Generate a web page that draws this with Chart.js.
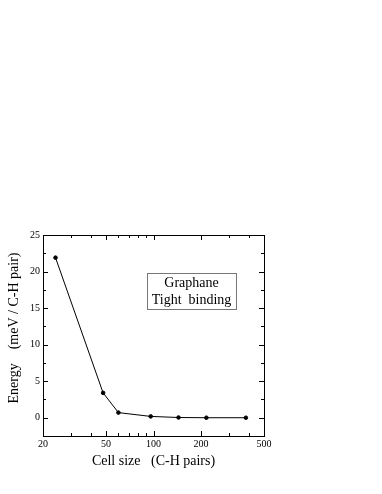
<!DOCTYPE html>
<html>
<head>
<meta charset="utf-8">
<script src="https://cdn.jsdelivr.net/npm/chart.js@4"></script>
<style>
  html, body { margin: 0; padding: 0; background: #fff; }
  #grafico { display: block; }
</style>
</head>
<body>
<canvas id="grafico" width="382" height="494"></canvas>
<script>
// datos
const tamanos = [24, 48, 60, 96, 144, 216, 384]
const energias = [21.9, 3.4, 0.7, 0.18, 0.03, 0.0, 0.0]
const ticks_x = [20, 50, 100, 200, 500]
const menores_x = [30, 40, 60, 70, 80, 90, 300, 400]
const ticks_y = [0, 5, 10, 15, 20, 25]
const menores_y = [-2.5, 2.5, 7.5, 12.5, 17.5, 22.5]
const leyenda = ['Graphane', 'Tight  binding']
const titulo_y = 'Energy    (meV / C-H pair)'

const fuente = '"Liberation Serif", "DejaVu Serif", serif'

// marco con ticks hacia adentro, titulo del eje y y caja de texto
const marco = {
  id: 'marco',
  afterDraw(chart) {
    const ctx = chart.ctx
    const a = chart.chartArea
    const sx = chart.scales.x
    const sy = chart.scales.y
    ctx.save()
    ctx.strokeStyle = '#000'
    ctx.lineWidth = 1
    ctx.strokeRect(a.left + 0.5, a.top + 0.5, a.right - a.left, a.bottom - a.top)

    ctx.beginPath()
    function tx(v, largo) {
      const px = Math.round(sx.getPixelForValue(v)) + 0.5
      ctx.moveTo(px, a.bottom); ctx.lineTo(px, a.bottom - largo)
      ctx.moveTo(px, a.top); ctx.lineTo(px, a.top + largo)
    }
    function ty(v, largo) {
      const py = Math.round(sy.getPixelForValue(v)) + 0.5
      ctx.moveTo(a.left, py); ctx.lineTo(a.left + largo, py)
      ctx.moveTo(a.right, py); ctx.lineTo(a.right - largo, py)
    }
    ticks_x.forEach(v => tx(v, 5))
    menores_x.forEach(v => tx(v, 3))
    ticks_y.forEach(v => ty(v, 5))
    menores_y.forEach(v => ty(v, 3))
    ctx.stroke()

    ctx.fillStyle = '#000'
    ctx.textAlign = 'center'
    ctx.textBaseline = 'middle'

    // titulo del eje y
    ctx.save()
    ctx.translate(14, a.top + 93)
    ctx.rotate(-Math.PI / 2)
    ctx.font = '14px ' + fuente
    ctx.fillText(titulo_y, 0, 0)
    ctx.restore()

    // caja de texto
    const bx = a.left + 104, by = a.top + 38, bw = 89, bh = 36
    ctx.strokeStyle = '#777'
    ctx.strokeRect(bx + 0.5, by + 0.5, bw, bh)
    ctx.font = '14px ' + fuente
    ctx.fillText(leyenda[0], bx + bw / 2, by + 10)
    ctx.fillText(leyenda[1], bx + bw / 2, by + 27)
    ctx.restore()
  }
}

let grafico = document.getElementById('grafico').getContext('2d')

new Chart(grafico, {
  type: 'line',
  data: {
    datasets: [{
      data: tamanos.map((t, i) => ({ x: t, y: energias[i] })),
      borderColor: '#000',
      backgroundColor: '#000',
      borderWidth: 1,
      pointRadius: 1.8,
      pointHoverRadius: 1.8,
      tension: 0
    }]
  },
  options: {
    responsive: false,
    animation: false,
    events: [],
    layout: { padding: { top: 235, right: 118, left: 0, bottom: 24 } },
    plugins: { legend: { display: false }, tooltip: { enabled: false } },
    scales: {
      x: {
        type: 'logarithmic',
        min: 20,
        max: 500,
        afterBuildTicks: (s) => { s.ticks = ticks_x.map(v => ({ value: v })) },
        afterFit: (s) => { s.height = 34 },
        grid: { display: false, drawTicks: false },
        border: { display: false },
        ticks: {
          color: '#000',
          padding: 2,
          maxRotation: 0,
          autoSkip: false,
          font: { family: fuente, size: 10 },
          callback: (v) => String(v)
        },
        title: {
          display: true,
          text: 'Cell size   (C-H pairs)',
          color: '#000',
          font: { family: fuente, size: 14 },
          padding: { top: 3, bottom: 0 }
        }
      },
      y: {
        min: -2.5,
        max: 25,
        afterBuildTicks: (s) => { s.ticks = ticks_y.map(v => ({ value: v })) },
        afterFit: (s) => { s.width = 43 },
        grid: { display: false, drawTicks: false },
        border: { display: false },
        ticks: {
          color: '#000',
          padding: 3,
          font: { family: fuente, size: 10 }
        }
      }
    }
  },
  plugins: [marco]
})
</script>
</body>
</html>
